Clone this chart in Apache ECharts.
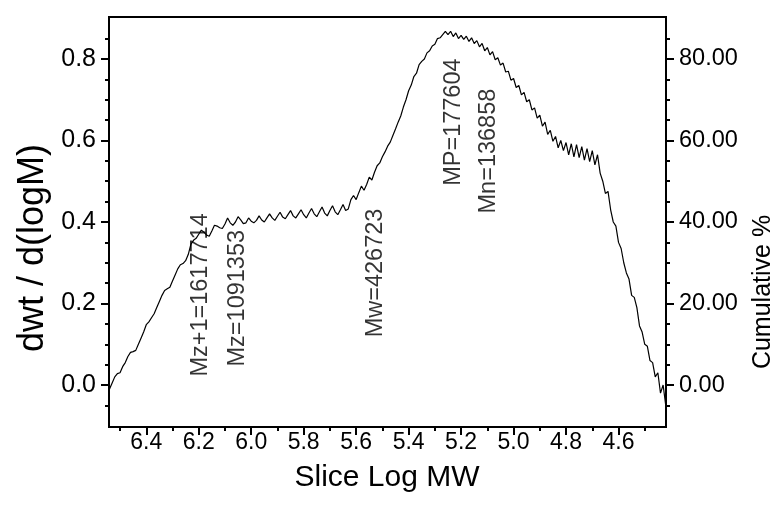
<!DOCTYPE html>
<html><head><meta charset="utf-8">
<script src="https://cdn.jsdelivr.net/npm/echarts@6/dist/echarts.min.js"></script>
<style>html,body{margin:0;padding:0;background:#fff}#c{width:775px;height:510px}</style>
</head><body><div id="c"></div>
<script>
// Slice Log MW (x) and dwt/d(logM) (y)
const logMW = [
6.54,6.53,6.52,6.51,6.50,6.49,6.48,6.47,6.46,6.45,
6.44,6.43,6.42,6.41,6.40,6.39,6.38,6.37,6.36,6.35,
6.34,6.33,6.32,6.31,6.30,6.29,6.28,6.27,6.26,6.25,
6.24,6.23,6.22,6.21,6.20,6.19,6.18,6.17,6.16,6.15,
6.14,6.13,6.12,6.11,6.10,6.09,6.08,6.07,6.06,6.05,
6.04,6.03,6.02,6.01,6.00,5.99,5.98,5.97,5.96,5.95,
5.94,5.93,5.92,5.91,5.90,5.89,5.88,5.87,5.86,5.85,
5.84,5.83,5.82,5.81,5.80,5.79,5.78,5.77,5.76,5.75,
5.74,5.73,5.72,5.71,5.70,5.69,5.68,5.67,5.66,5.65,
5.64,5.63,5.62,5.61,5.60,5.59,5.58,5.57,5.56,5.55,
5.54,5.53,5.52,5.51,5.50,5.49,5.48,5.47,5.46,5.45,
5.44,5.43,5.42,5.41,5.40,5.39,5.38,5.37,5.36,5.35,
5.34,5.33,5.32,5.31,5.30,5.29,5.28,5.27,5.26,5.25,
5.24,5.23,5.22,5.21,5.20,5.19,5.18,5.17,5.16,5.15,
5.14,5.13,5.12,5.11,5.10,5.09,5.08,5.07,5.06,5.05,
5.04,5.03,5.02,5.01,5.00,4.99,4.98,4.97,4.96,4.95,
4.94,4.93,4.92,4.91,4.90,4.89,4.88,4.87,4.86,4.85,
4.84,4.83,4.82,4.81,4.80,4.79,4.78,4.77,4.76,4.75,
4.74,4.73,4.72,4.71,4.70,4.69,4.68,4.67,4.66,4.65,
4.64,4.63,4.62,4.61,4.60,4.59,4.58,4.57,4.56,4.55,
4.54,4.53,4.52,4.51,4.50,4.49,4.48,4.47,4.46,4.45,
4.44,4.43,4.42
];
const dwt = [
-0.010,0.005,0.020,0.028,0.030,0.045,0.055,0.070,0.080,0.082,
0.085,0.100,0.115,0.130,0.148,0.155,0.165,0.175,0.190,0.205,
0.220,0.232,0.236,0.240,0.255,0.270,0.285,0.295,0.298,0.305,
0.320,0.345,0.355,0.360,0.370,0.380,0.375,0.368,0.365,0.378,
0.392,0.390,0.386,0.384,0.395,0.410,0.398,0.392,0.400,0.413,
0.405,0.396,0.398,0.410,0.402,0.398,0.404,0.415,0.405,0.400,
0.410,0.420,0.410,0.404,0.414,0.424,0.412,0.408,0.418,0.428,
0.415,0.410,0.420,0.430,0.418,0.410,0.422,0.433,0.420,0.413,
0.425,0.437,0.422,0.415,0.428,0.440,0.425,0.418,0.430,0.443,
0.428,0.432,0.455,0.465,0.455,0.472,0.488,0.478,0.492,0.510,
0.503,0.522,0.538,0.545,0.560,0.572,0.586,0.596,0.612,0.628,
0.645,0.660,0.682,0.700,0.722,0.736,0.757,0.765,0.786,0.794,
0.800,0.815,0.820,0.832,0.836,0.850,0.852,0.860,0.868,0.860,
0.868,0.855,0.864,0.850,0.858,0.848,0.856,0.843,0.852,0.838,
0.845,0.830,0.838,0.820,0.828,0.810,0.818,0.798,0.803,0.785,
0.790,0.768,0.770,0.748,0.752,0.730,0.735,0.712,0.718,0.695,
0.700,0.675,0.680,0.655,0.662,0.635,0.645,0.615,0.625,0.598,
0.610,0.582,0.600,0.575,0.595,0.565,0.592,0.560,0.590,0.558,
0.585,0.552,0.580,0.548,0.575,0.540,0.565,0.520,0.500,0.470,
0.475,0.430,0.400,0.390,0.350,0.335,0.300,0.275,0.260,0.220,
0.215,0.190,0.145,0.130,0.100,0.095,0.060,0.055,0.020,0.030,
-0.020,0.000,-0.050
];
// tick values
const xMajorTicks = [6.4,6.2,6.0,5.8,5.6,5.4,5.2,5.0,4.8,4.6];
const xMinorTicks = [6.5,6.3,6.1,5.9,5.7,5.5,5.3,5.1,4.9,4.7,4.5];
const yMajorTicks = [0,0.2,0.4,0.6,0.8];
const yMinorTicks = [-0.05,0.05,0.1,0.15,0.25,0.3,0.35,0.45,0.5,0.55,0.65,0.7,0.75,0.85];
const cumMajorTicks = [0,20,40,60,80];
const cumMinorTicks = [-5,5,10,15,25,30,35,45,50,55,65,70,75,85];
// annotations (text, x in log MW, y in dwt units)
const annoText = ['Mz+1=1617714','Mz=1091353','Mw=426723','MP=177604','Mn=136858'];
const annoX = [6.195,6.051,5.527,5.230,5.096];
const annoY = [0.221,0.213,0.275,0.645,0.574];

const FONT = '"Liberation Sans", Arial, sans-serif';
const chart = echarts.init(document.getElementById('c'), null, {renderer:'canvas'});
const X_MIN = 4.419, X_MAX = 6.542, Y_MIN = -0.103, Y_MAX = 0.903;
const axLine = {show:true, onZero:false, lineStyle:{color:'#000', width:2}};
const noLine = {show:false, onZero:false};
const option = {
  animation:false,
  backgroundColor:'#fff',
  grid:{left:109, right:109, top:17, bottom:83, show:true, borderColor:'#000', borderWidth:2, backgroundColor:'transparent'},
  xAxis:[
    {type:'value', min:X_MIN, max:X_MAX, inverse:true, position:'bottom',
     axisLine:axLine, splitLine:{show:false},
     axisTick:{show:true, customValues:xMajorTicks, length:8, lineStyle:{color:'#000', width:2}},
     axisLabel:{show:true, customValues:xMajorTicks, margin:4, color:'#000', fontSize:23, fontFamily:FONT, formatter:v=>v.toFixed(1)}},
    {type:'value', min:X_MIN, max:X_MAX, inverse:true, position:'bottom',
     axisLine:noLine, splitLine:{show:false}, axisLabel:{show:false},
     axisTick:{show:true, customValues:xMinorTicks, length:4, lineStyle:{color:'#000', width:2}}}
  ],
  yAxis:[
    {type:'value', min:Y_MIN, max:Y_MAX, position:'left',
     axisLine:axLine, splitLine:{show:false},
     axisTick:{show:true, customValues:yMajorTicks, length:8, lineStyle:{color:'#000', width:2}},
     axisLabel:{show:true, customValues:yMajorTicks, margin:13, color:'#000', fontSize:25, fontFamily:FONT, formatter:v=>v.toFixed(1)}},
    {type:'value', min:Y_MIN*100, max:Y_MAX*100, position:'right',
     axisLine:axLine, splitLine:{show:false},
     axisTick:{show:true, customValues:cumMajorTicks, length:8, lineStyle:{color:'#000', width:2}},
     axisLabel:{show:true, customValues:cumMajorTicks, margin:13, color:'#000', fontSize:23.5, fontFamily:FONT, formatter:v=>v.toFixed(2)}},
    {type:'value', min:Y_MIN, max:Y_MAX, position:'left',
     axisLine:noLine, splitLine:{show:false}, axisLabel:{show:false},
     axisTick:{show:true, customValues:yMinorTicks, length:4, lineStyle:{color:'#000', width:2}}},
    {type:'value', min:Y_MIN*100, max:Y_MAX*100, position:'right',
     axisLine:noLine, splitLine:{show:false}, axisLabel:{show:false},
     axisTick:{show:true, customValues:cumMinorTicks, length:4, lineStyle:{color:'#000', width:2}}}
  ],
  series:[
    {type:'line', xAxisIndex:0, yAxisIndex:0, showSymbol:false, symbol:'none', silent:true,
     lineStyle:{color:'#000', width:1.2}, data: logMW.map((x,i)=>[x, dwt[i]])},
    {type:'scatter', xAxisIndex:0, yAxisIndex:0, symbolSize:1, silent:true,
     itemStyle:{color:'rgba(0,0,0,0)'},
     label:{show:true, position:'inside', rotate:90, color:'#000', fontSize:23.5, fontFamily:FONT,
            formatter:p=>p.name},
     data: annoText.map((t,i)=>({name:t, value:[annoX[i], annoY[i]]}))}
  ],
  graphic:[
    {type:'text', x:33, y:248, rotation:Math.PI/2, silent:true,
     style:{text:'dwt / d(logM)', fontSize:36, fontFamily:FONT, fill:'#000', align:'center', verticalAlign:'middle', textAlign:'center', textVerticalAlign:'middle'}},
    {type:'text', x:763, y:292, rotation:Math.PI/2, silent:true,
     style:{text:'Cumulative %', fontSize:25, fontFamily:FONT, fill:'#000', align:'center', verticalAlign:'middle', textAlign:'center', textVerticalAlign:'middle'}},
    {type:'text', x:387, y:478, silent:true,
     style:{text:'Slice Log MW', fontSize:30, fontFamily:FONT, fill:'#000', align:'center', verticalAlign:'middle', textAlign:'center', textVerticalAlign:'middle'}}
  ]
};
chart.setOption(option);
</script>
</body></html>
